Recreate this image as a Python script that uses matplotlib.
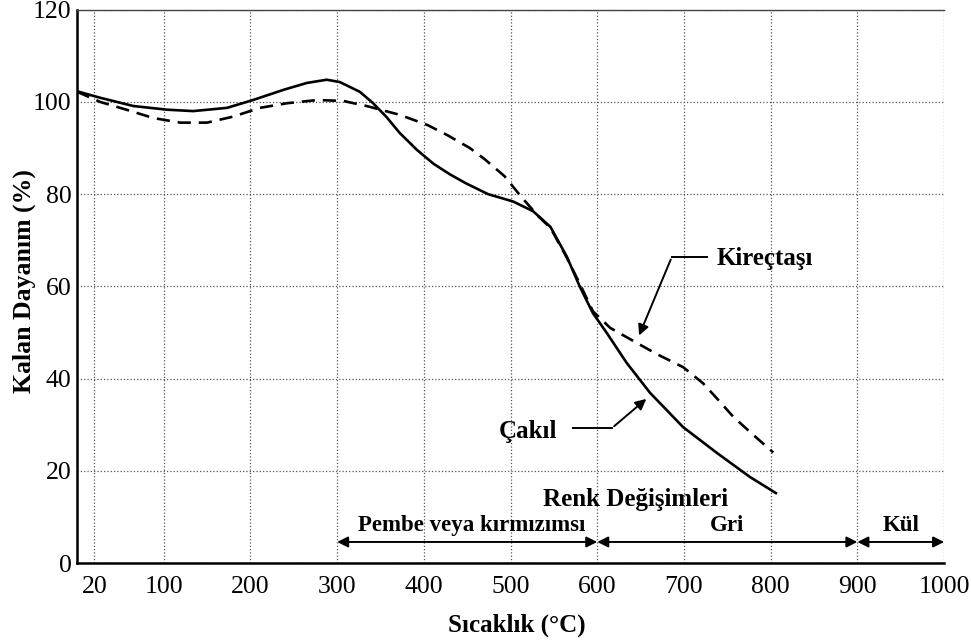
import matplotlib.pyplot as plt

# Çakıl (solid)
cakil_x = [0, 26.5, 65, 104, 134, 173, 203, 238, 265, 288, 303, 326, 341, 357, 372,
           392, 411, 430, 448, 474, 503, 526, 546, 565, 580, 595, 611, 634, 661, 699,
           738, 776, 806]
cakil_y = [102.3, 100.9, 99.1, 98.3, 98.0, 98.7, 100.4, 102.6, 104.1, 104.8, 104.3,
           102.2, 99.8, 96.7, 93.3, 89.6, 86.6, 84.3, 82.4, 80.0, 78.4, 76.3, 72.9,
           66.4, 59.9, 54.2, 49.9, 43.4, 36.9, 29.5, 23.9, 18.7, 15.2]

# Kireçtaşı (dashed)
kirec_x = [0, 26.5, 57, 88, 119, 150, 180, 211, 242, 277, 307, 334, 372, 404, 427,
           453, 470, 493, 512, 532, 546, 565, 580, 595, 615, 646, 670, 699, 722, 740,
           757, 780, 803]
kirec_y = [102.2, 100.0, 98.3, 96.5, 95.5, 95.5, 96.8, 98.7, 99.7, 100.4, 100.2, 99.1,
           97.2, 95.0, 92.8, 90.0, 87.6, 83.9, 79.5, 75.2, 72.7, 66.2, 60.5, 54.6,
           51.0, 47.7, 45.2, 42.5, 39.0, 35.3, 31.7, 27.8, 24.0]

x_ticks = [20, 100, 200, 300, 400, 500, 600, 700, 800, 900, 1000]
y_ticks = [0, 20, 40, 60, 80, 100, 120]

# colour change bands (start, end, label)
bands = [(300, 600, 'Pembe veya kırmızımsı'), (600, 900, 'Gri'), (900, 1000, 'Kül')]

plt.rcParams['font.family'] = ['Liberation Serif', 'DejaVu Serif']

fig = plt.figure(figsize=(9.71, 6.4), dpi=100)
ax = fig.add_axes([0.0793, 0.12, 0.893, 0.865])

ax.plot(cakil_x, cakil_y, color='black', lw=1.9, solid_joinstyle='round')
ax.plot(kirec_x, kirec_y, color='black', lw=1.9, ls=(0, (5, 3)))

ax.set_xlim(0, 1000)
ax.set_ylim(0, 120)
ax.set_xticks(x_ticks)
ax.set_yticks(y_ticks)
ax.tick_params(length=0, labelsize=18.5)
ax.tick_params(axis='x', pad=9)
ax.tick_params(axis='y', pad=4)
ax.grid(True, color='#555555', ls=':', lw=0.9)

for s in ['left', 'bottom']:
    ax.spines[s].set_linewidth(1.8)
ax.spines['top'].set_linewidth(1.0)
ax.spines['top'].set_color('#444444')
ax.spines['right'].set_visible(False)

ax.set_xlabel('Sıcaklık (°C)', fontsize=18, fontweight='bold', va='center')
ax.xaxis.set_label_coords(0.507, -0.112)
ax.set_ylabel('Kalan Dayanım (%)', fontsize=18.5, fontweight='bold')
ax.yaxis.set_label_coords(-0.047, 0.51)

# curve labels with leader arrows
bold = dict(fontsize=18, fontweight='bold')
arr = dict(arrowstyle='-|>', color='black', lw=1.4, mutation_scale=16)
ax.text(738, 66.0, 'Kireçtaşı', ha='left', va='center', **bold)
ax.plot([727, 686], [66.4, 66.4], color='black', lw=1.4)
ax.annotate('', xy=(647, 48.8), xytext=(686, 66.4), arrowprops=arr)

ax.text(486, 28.6, 'Çakıl', ha='left', va='center', **bold)
ax.plot([572, 617], [29.3, 29.3], color='black', lw=1.4)
ax.annotate('', xy=(659, 36), xytext=(617, 29.3), arrowprops=arr)

ax.text(644, 13.7, 'Renk Değişimleri', ha='center', va='center', **bold)
for x0, x1, lab in bands:
    ax.annotate('', xy=(x0, 4.6), xytext=(x1, 4.6),
                arrowprops=dict(arrowstyle='<|-|>', color='black', lw=1.4,
                                mutation_scale=16, shrinkA=0, shrinkB=0))
    ax.text((x0 + x1) / 2 + (5 if lab == 'Pembe veya kırmızımsı' else 0), 8.2, lab,
            ha='center', va='center', fontsize=16.5, fontweight='bold')

fig.savefig('out.png', dpi=100)
